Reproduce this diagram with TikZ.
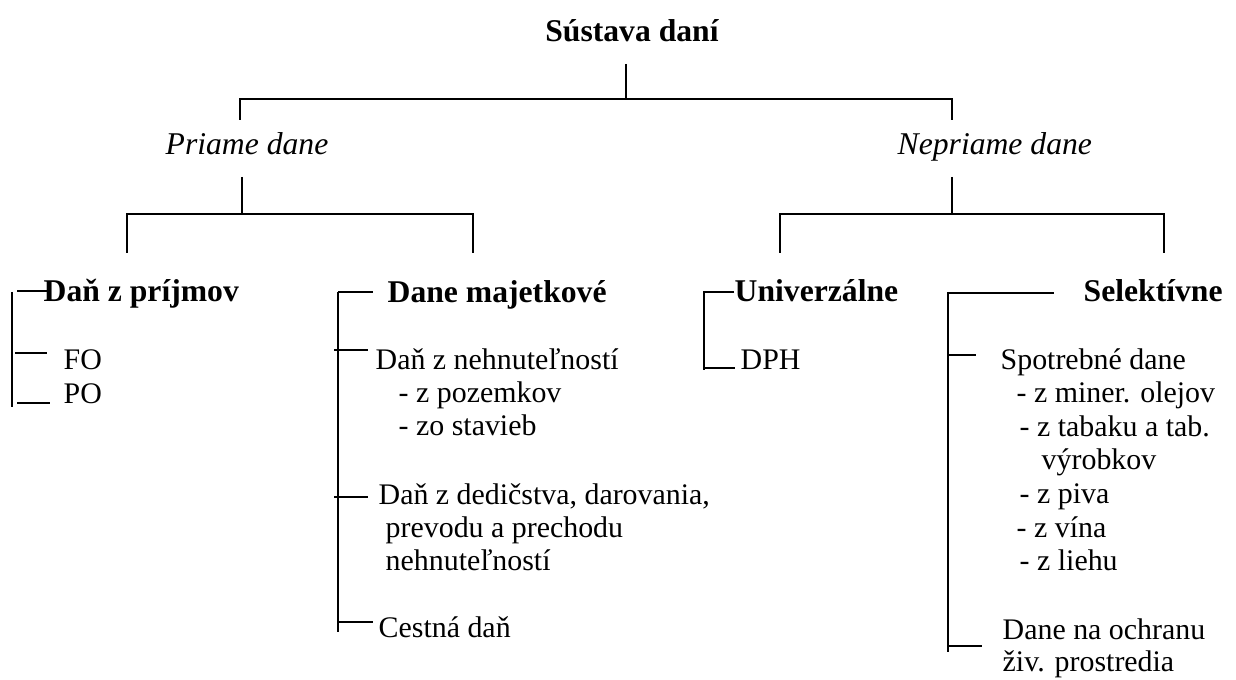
\documentclass[tikz,border=0pt]{standalone}
\usepackage{fontspec}
\setmainfont{Liberation Serif}
\begin{document}
\tikzset{
  ln/.style={line width=0.6pt},
  hd/.style={font=\fontsize{9}{11}\selectfont\bfseries, inner sep=0pt, anchor=base west},
  it/.style={font=\fontsize{9}{11}\selectfont\itshape, inner sep=0pt, anchor=base west},
  tx/.style={font=\fontsize{8.5}{10}\selectfont, inner sep=0pt, anchor=base west},
}
\begin{tikzpicture}[x=0.01cm,y=-0.01cm]
\useasboundingbox (0,0) rectangle (1236,680);
% ---- top level
\node[hd, anchor=base] (root) at (632,42) {Sústava daní};
\node[it] (pd) at (165,155) {Priame dane};
\node[it] (nd) at (897,155) {Nepriame dane};
\coordinate (r1) at (626,64);
\coordinate (r2) at (626,99);
\coordinate (rl) at (240,99);
\coordinate (rr) at (952,99);
\coordinate (rl2) at (240,120);
\coordinate (rr2) at (952,120);
\draw[ln] (r1) -- (r2);
\draw[ln] (rl2) -- (rl) -- (rr) -- (rr2);
% ---- second level
\coordinate (p1) at (242,177);
\coordinate (p2) at (242,214);
\coordinate (pl) at (127,214);
\coordinate (pr) at (473,214);
\coordinate (pl2) at (127,253);
\coordinate (pr2) at (473,253);
\draw[ln] (p1) -- (p2);
\draw[ln] (pl2) -- (pl) -- (pr) -- (pr2);
\coordinate (n1) at (952,177);
\coordinate (n2) at (952,214);
\coordinate (nl) at (780,214);
\coordinate (nr) at (1164,214);
\coordinate (nl2) at (780,253);
\coordinate (nr2) at (1164,253);
\draw[ln] (n1) -- (n2);
\draw[ln] (nl2) -- (nl) -- (nr) -- (nr2);
% ---- Dan z prijmov
\node[hd] (dp) at (43,302) {Daň z príjmov};
\node[tx] (fo) at (63,370) {FO};
\node[tx] (po) at (63,404) {PO};
\coordinate (a0) at (12,292);
\coordinate (a1) at (12,407);
\draw[ln] (a0) -- (a1);
\coordinate (at1) at (17,291);
\coordinate (at2) at (47,291);
\coordinate (af1) at (15,353);
\coordinate (af2) at (47,353);
\coordinate (ap1) at (17,403);
\coordinate (ap2) at (50,403);
\draw[ln] (at1) -- (at2);
\draw[ln] (af1) -- (af2);
\draw[ln] (ap1) -- (ap2);
% ---- Dane majetkove
\node[hd] (dm) at (387,303) {Dane majetkové};
\node[tx] (dn) at (375,370) {Daň z nehnuteľností};
\node[tx] (dn1) at (398,403) {- z pozemkov};
\node[tx] (dn2) at (398,436) {- zo stavieb};
\node[tx] (dd) at (378,505) {Daň z dedičstva, darovania,};
\node[tx] (dd1) at (385,538) {prevodu a prechodu};
\node[tx] (dd2) at (385,571) {nehnuteľností};
\node[tx] (cd) at (378,638) {Cestná daň};
\coordinate (b0) at (338,292);
\coordinate (b1) at (338,632);
\draw[ln] (b0) -- (b1);
\coordinate (bt) at (373,292);
\coordinate (bn1) at (334,350);
\coordinate (bn2) at (368,350);
\coordinate (bd1) at (334,497);
\coordinate (bd2) at (368,497);
\coordinate (bc1) at (338,622);
\coordinate (bc2) at (373,622);
\draw[ln] (b0) -- (bt);
\draw[ln] (bn1) -- (bn2);
\draw[ln] (bd1) -- (bd2);
\draw[ln] (bc1) -- (bc2);
% ---- Univerzalne
\node[hd] (un) at (734,302) {Univerzálne};
\node[tx] (dph) at (740,370) {DPH};
\coordinate (c0) at (704,292);
\coordinate (c1) at (704,370);
\coordinate (ct) at (734,292);
\coordinate (cd1) at (704,368);
\coordinate (cd2) at (735,368);
\draw[ln] (ct) -- (c0) -- (c1);
\draw[ln] (cd1) -- (cd2);
% ---- Selektivne
\node[hd] (se) at (1083,302) {Selektívne};
\node[tx] (sp) at (1000,370) {Spotrebné dane};
\node[tx] (s1) at (1016,403) {- z miner. olejov};
\node[tx] (s2) at (1019,437) {- z tabaku a tab.};
\node[tx] (s3) at (1041,470) {výrobkov};
\node[tx] (s4) at (1019,504) {- z piva};
\node[tx] (s5) at (1016,538) {- z vína};
\node[tx] (s6) at (1019,571) {- z liehu};
\node[tx] (so) at (1002,640) {Dane na ochranu};
\node[tx] (so2) at (1002,672) {živ. prostredia};
\coordinate (d0) at (948,292);
\coordinate (d1) at (948,652);
\draw[ln] (d0) -- (d1);
\coordinate (dt0) at (948,293);
\coordinate (dt) at (1054,293);
\coordinate (ds1) at (948,355);
\coordinate (ds2) at (976,355);
\coordinate (do1) at (948,646);
\coordinate (do2) at (982,646);
\draw[ln] (dt0) -- (dt);
\draw[ln] (ds1) -- (ds2);
\draw[ln] (do1) -- (do2);
\end{tikzpicture}
\end{document}
